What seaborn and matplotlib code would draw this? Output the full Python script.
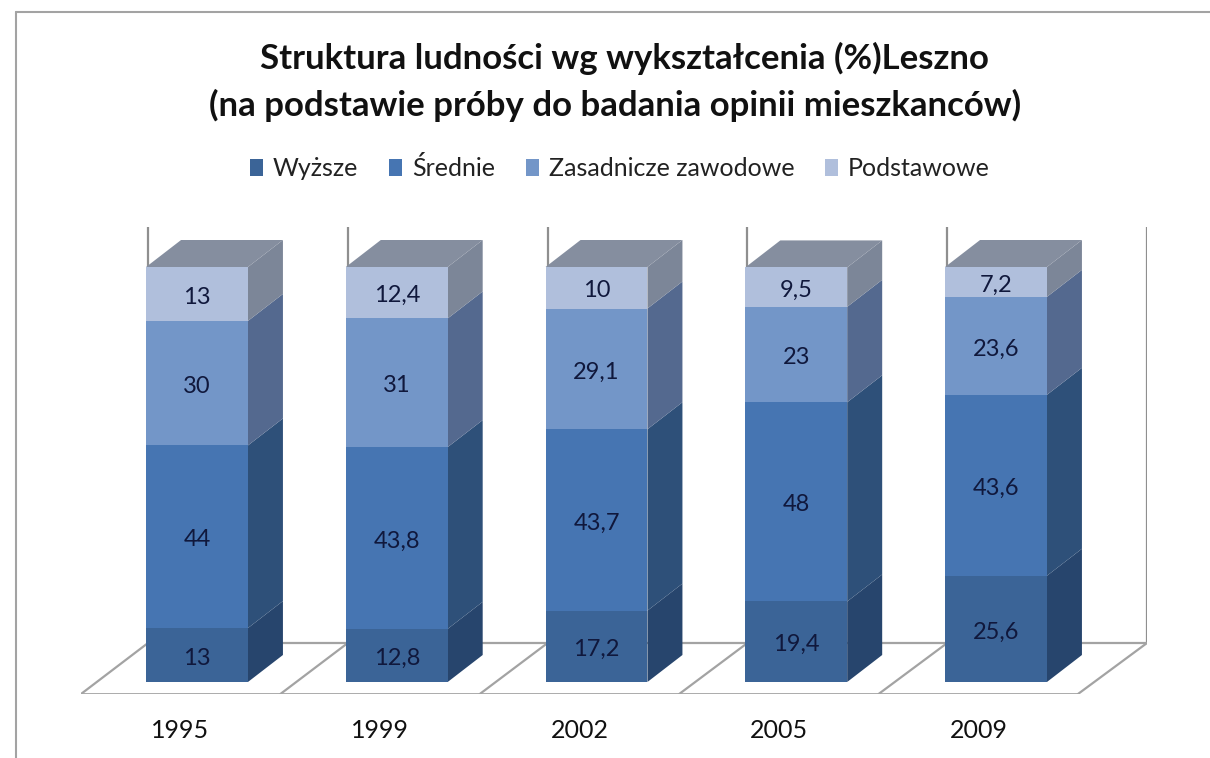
import matplotlib.pyplot as plt
import seaborn as sns
from matplotlib.lines import Line2D
from matplotlib.transforms import ScaledTranslation

years = ["1995", "1999", "2002", "2005", "2009"]
wyzsze = [13, 12.8, 17.2, 19.4, 25.6]
srednie = [44, 43.8, 43.7, 48, 43.6]
zawodowe = [30, 31, 29.1, 23, 23.6]
podstawowe = [13, 12.4, 10, 9.5, 7.2]

series_names = ["Wyższe", "Średnie", "Zasadnicze zawodowe", "Podstawowe"]
series_values = [wyzsze, srednie, zawodowe, podstawowe]
front_colors = ["#3b6497", "#4675b2", "#7396c8", "#b0bfdc"]
side_colors = ["#27456d", "#2e5079", "#54698f", "#7c8698"]
top_color = "#858e9f"

W, H = 1210, 758
# pixel layout of the picture
X_STEP = 199.75
Y_SCALE = 4.15
X0, Y0 = 197, 682
DEPTH_X, DEPTH_Y = 35 / X_STEP, 27 / Y_SCALE
LINE = "#a3a3a3"

sns.set_theme(style="white")
plt.rcParams["font.family"] = ["Lato", "DejaVu Sans"]

fig = plt.figure(figsize=(W / 100, H / 100), dpi=100)
left, right, top, bottom = 81, 1147, 227, 694
ax = fig.add_axes([left / W, 1 - bottom / H, (right - left) / W, (bottom - top) / H])

# walls and floor
floor_front = (Y0 - 694) / Y_SCALE
floor_back = (Y0 - 643) / Y_SCALE
wall_top = (Y0 - 227) / Y_SCALE
for i in range(len(years) + 1):
    x_front = (81 + 199.4 * i - X0) / X_STEP
    x_back = (148 + 199.8 * i - X0) / X_STEP
    ax.plot([x_front, x_back], [floor_front, floor_back], color=LINE, lw=1.6, zorder=1)
    ax.plot([x_back, x_back], [floor_back, wall_top], color="#8f8f8f", lw=1.6, zorder=1)
ax.plot([(81 - X0) / X_STEP, (1078 - X0) / X_STEP], [floor_front] * 2, color=LINE, lw=2, zorder=1)
ax.plot([(148 - X0) / X_STEP, (1147 - X0) / X_STEP], [floor_back] * 2, color=LINE, lw=1.6, zorder=1)

# stacked bars
bottoms = [0] * len(years)
for name, values, color, side in zip(series_names, series_values, front_colors, side_colors):
    sns.barplot(x=years, y=values, bottom=bottoms, color=color, saturation=1, width=0.51,
                label=name, ax=ax, zorder=3, linewidth=0, edgecolor=color)
    bar_group = ax.containers[-1]
    for bar in bar_group:
        x1 = bar.get_x() + bar.get_width()
        y0, y1 = bar.get_y(), bar.get_y() + bar.get_height()
        ax.fill([x1, x1 + DEPTH_X, x1 + DEPTH_X, x1], [y0, y0 + DEPTH_Y, y1 + DEPTH_Y, y1],
                color=side, lw=0, zorder=2)
    texts = ax.bar_label(bar_group, labels=[f"{v:g}".replace(".", ",") for v in values], label_type="center",
                         fontsize=17, color="#10183c", zorder=4)
    for text in texts:
        text.xyann = (0, -2.2)
    bottoms = [b + v for b, v in zip(bottoms, values)]

for bar in ax.containers[-1]:
    x0, x1 = bar.get_x(), bar.get_x() + bar.get_width()
    y1 = bar.get_y() + bar.get_height()
    ax.fill([x0, x1, x1 + DEPTH_X, x0 + DEPTH_X], [y1, y1, y1 + DEPTH_Y, y1 + DEPTH_Y],
            color=top_color, lw=0, zorder=2)

ax.set_xlim((left - X0) / X_STEP, (right - X0) / X_STEP)
ax.set_ylim((Y0 - bottom) / Y_SCALE, (Y0 - top) / Y_SCALE)
ax.set_yticks([])
ax.set_ylabel("")
sns.despine(ax=ax, left=True, bottom=True)
ax.tick_params(axis="x", length=0, pad=18, labelsize=18, labelcolor="#111111")
shift = ScaledTranslation(-17 / 100, 0, fig.dpi_scale_trans)
for label in ax.get_xticklabels():
    label.set_transform(label.get_transform() + shift)

title_style = dict(ha="center", va="center", fontsize=25, fontweight="bold", color="#111111")
fig.text(624 / W, 1 - 58 / H, "Struktura ludności wg wykształcenia (%)Leszno", **title_style)
fig.text(615 / W, 1 - 105 / H, "(na podstawie próby do badania opinii mieszkanców)", **title_style)

handles, labels = ax.get_legend_handles_labels()
ax.get_legend().remove()
fig.legend(handles, labels, ncol=4, loc="center", bbox_to_anchor=(620 / W, 1 - 168 / H), frameon=False,
           fontsize=18, handlelength=0.5, handleheight=0.7, handletextpad=0.4, columnspacing=1.25,
           labelcolor="#222222")

# outer frame, cut by the picture edge
fig.add_artist(Line2D([16 / W, 1], [1 - 12 / H] * 2, color=LINE, lw=1.5))
fig.add_artist(Line2D([16 / W] * 2, [0, 1 - 12 / H], color=LINE, lw=1.5))

fig.savefig("out.png", dpi=100)
